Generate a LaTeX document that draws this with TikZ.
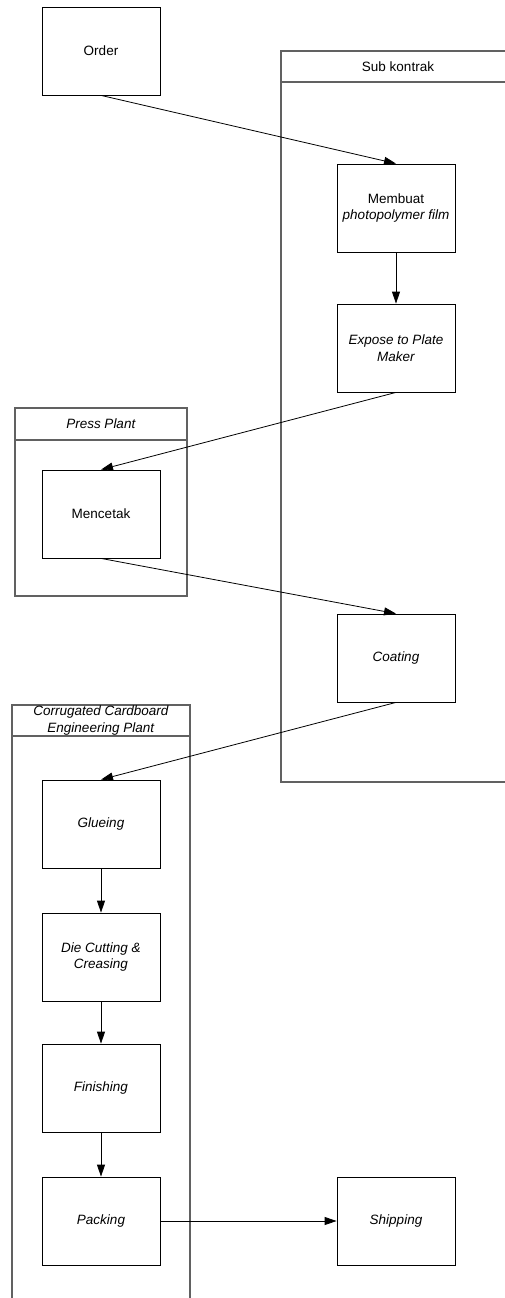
\documentclass[tikz,border=0pt]{standalone}
\usepackage{fontspec}
\setmainfont{Liberation Sans}
\usetikzlibrary{arrows.meta}
\begin{document}
\begin{tikzpicture}[x=1pt,y=-1pt,font=\fontsize{13.5}{16.5}\selectfont,
lane/.style={draw=black!62,line width=1.1pt},
proc/.style={draw,line width=0.8pt,minimum width=118pt,minimum height=88pt,inner sep=0pt,align=center},
post/.style={-{Triangle[length=12pt,width=8pt]},line width=0.8pt}]

\useasboundingbox (0,0) rectangle (505,1298);

% swimlanes
\draw[lane] (506,51) -- (281,51) -- (281,782) -- (506,782);
\draw[lane] (281,82) -- (506,82);
\node (l_sub) at (398,66.5) {Sub kontrak};

\draw[lane] (15,408) rectangle (187,596);
\draw[lane] (15,440) -- (187,440);
\node (l_press) at (101,424) {\textit{Press Plant}};

\draw[lane] (12,1299) -- (12,705) -- (190,705) -- (190,1299);
\draw[lane] (12,736) -- (190,736);
\node[align=center] (l_ccep) at (101,720.5) {\textit{Corrugated Cardboard}\\\textit{Engineering Plant}};

% steps
\node[proc] (order) at (101,51) {Order};
\node[proc] (membuat) at (396,208) {Membuat\\\textit{photopolymer film}};
\node[proc] (expose) at (396,348) {\textit{Expose to Plate}\\\textit{Maker}};
\node[proc] (cetak) at (101,514) {Mencetak};
\node[proc] (coating) at (396,658) {\textit{Coating}};
\node[proc] (glue) at (101,824) {\textit{Glueing}};
\node[proc] (die) at (101,957) {\textit{Die Cutting \&}\\\textit{Creasing}};
\node[proc] (finish) at (101,1088) {\textit{Finishing}};
\node[proc] (pack) at (101,1221) {\textit{Packing}};
\node[proc] (ship) at (396,1221) {\textit{Shipping}};

\path (order.south) edge[post] (membuat.north);
\path (expose.south) edge[post] (cetak.north);
\path (cetak.south) edge[post] (coating.north);
\path (coating.south) edge[post] (glue.north);

\foreach \a/\b in {membuat/expose, glue/die, die/finish, finish/pack, pack/ship}{
\path (\a) edge[post] (\b);
}

\end{tikzpicture}
\end{document}
